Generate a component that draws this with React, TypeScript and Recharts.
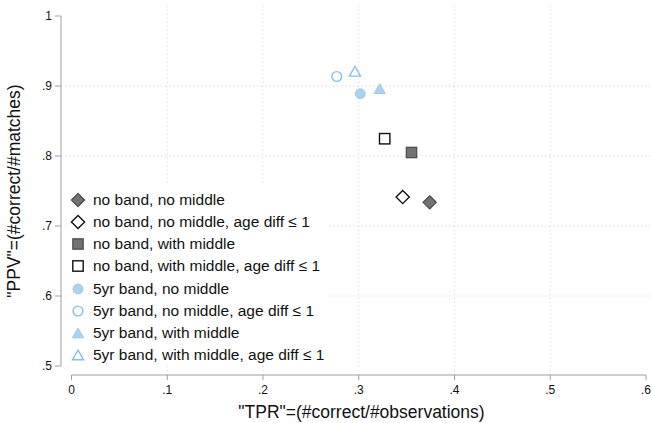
import React from 'react';
import { ScatterChart, Scatter, XAxis, YAxis, ReferenceLine, Legend } from 'recharts';

const seriesNames = [
  'no band, no middle',
  'no band, no middle, age diff ≤ 1',
  'no band, with middle',
  'no band, with middle, age diff ≤ 1',
  '5yr band, no middle',
  '5yr band, no middle, age diff ≤ 1',
  '5yr band, with middle',
  '5yr band, with middle, age diff ≤ 1',
];
const markerKinds = ['diamond', 'diamond', 'square', 'square', 'circle', 'circle', 'triangle', 'triangle'];
const markerFilled = [true, false, true, false, true, false, true, false];
const tprValues = [0.3741, 0.3459, 0.3551, 0.3271, 0.3016, 0.277, 0.3219, 0.2961];
const ppvValues = [0.7338, 0.7414, 0.805, 0.8247, 0.889, 0.9136, 0.8962, 0.921];

const xTicks = [0, 0.1, 0.2, 0.3, 0.4, 0.5, 0.6];
const yTicks = [0.5, 0.6, 0.7, 0.8, 0.9, 1];
const xGrid = [0.1, 0.2, 0.3, 0.4, 0.5];
const yGrid = [0.6, 0.7, 0.8, 0.9];

const FONT = '"Liberation Sans", Arial, Helvetica, sans-serif';
const AXIS_COLOR = '#a0a0a0';
const GRID_COLOR = '#d4d4d4';

const fmt = (v: number) => {
  if (v === 0) return '0';
  if (v === 1) return '1';
  return String(Math.round(v * 10) / 10).replace(/^0/, '');
};

function markerStyle(i: number) {
  const isBlue = markerKinds[i] === 'circle' || markerKinds[i] === 'triangle';
  if (isBlue) {
    return markerFilled[i]
      ? { fill: '#acd2ef', stroke: '#9ac7ea', strokeWidth: 1 }
      : { fill: 'none', stroke: '#85c0ea', strokeWidth: 1.4 };
  }
  return markerFilled[i]
    ? { fill: '#727272', stroke: '#4a4a4a', strokeWidth: 1.2 }
    : { fill: '#ffffff', stroke: '#111111', strokeWidth: 1.4 };
}

function Marker({ i, cx, cy }: { i: number; cx: number; cy: number }) {
  const st = markerStyle(i);
  const kind = markerKinds[i];
  if (kind === 'diamond') {
    const r = 6.6;
    return <path d={`M${cx},${cy - r}L${cx + r},${cy}L${cx},${cy + r}L${cx - r},${cy}Z`} {...st} />;
  }
  if (kind === 'square') {
    const h = 5.2;
    return <rect x={cx - h} y={cy - h} width={2 * h} height={2 * h} {...st} />;
  }
  if (kind === 'circle') {
    return <circle cx={cx} cy={cy} r={4.9} {...st} />;
  }
  const w = 5.6;
  const h = 4.8;
  return <path d={`M${cx},${cy - h}L${cx + w},${cy + h}L${cx - w},${cy + h}Z`} {...st} />;
}

const seriesData = seriesNames.map((name, i) => [{ tpr: tprValues[i], ppv: ppvValues[i], name }]);

function LegendContent() {
  return (
    <div style={{ background: '#ffffff', fontFamily: FONT, fontSize: 15.5, color: '#111', paddingTop: 4, paddingRight: 4 }}>
      {seriesNames.map((name, i) => (
        <div key={name} style={{ display: 'flex', alignItems: 'center', height: 22.15, whiteSpace: 'nowrap' }}>
          <svg width={20} height={18} style={{ flex: 'none' }}>
            <Marker i={i} cx={10} cy={9} />
          </svg>
          <span style={{ marginLeft: 5 }}>{name}</span>
        </div>
      ))}
    </div>
  );
}

export default function App() {
  return (
    <div style={{ position: 'absolute', left: 0, top: 0, width: 652, height: 423, background: '#fff' }}>
      <ScatterChart width={652} height={423} margin={{ top: 5, right: 0, bottom: 0, left: 0 }}>
        {xGrid.map((v) => (
          <ReferenceLine key={'gx' + v} x={v} stroke={GRID_COLOR} strokeDasharray="1 3" strokeWidth={1} />
        ))}
        {yGrid.map((v) => (
          <ReferenceLine key={'gy' + v} y={v} stroke={GRID_COLOR} strokeDasharray="1 3" strokeWidth={1} />
        ))}
        <XAxis
          type="number"
          dataKey="tpr"
          domain={[0, 0.6]}
          ticks={xTicks}
          tickFormatter={fmt}
          padding={{ left: 10.5, right: 6 }}
          height={48}
          tickSize={5}
          tickMargin={5}
          axisLine={{ stroke: AXIS_COLOR, strokeDasharray: '0 10.5 574.5 1000' }}
          tickLine={{ stroke: AXIS_COLOR }}
          tick={{ fill: '#111', fontSize: 12, fontFamily: FONT }}
          label={{
            value: '"TPR"=(#correct/#observations)',
            position: 'insideBottom',
            offset: 5,
            dx: 5,
            style: { fill: '#111', fontSize: 17.5, fontFamily: FONT },
          }}
          allowDataOverflow
        />
        <YAxis
          type="number"
          dataKey="ppv"
          domain={[0.5, 1]}
          ticks={yTicks}
          tickFormatter={fmt}
          padding={{ top: 11, bottom: 9 }}
          width={61}
          tickSize={6}
          tickMargin={3}
          axisLine={{ stroke: AXIS_COLOR, strokeDasharray: '0 11 350 1000' }}
          tickLine={{ stroke: AXIS_COLOR }}
          tick={{ fill: '#111', fontSize: 12, fontFamily: FONT }}
          label={{
            value: '"PPV"=(#correct/#matches)',
            angle: -90,
            position: 'insideLeft',
            offset: 0,
            dx: 14,
            dy: 1,
            style: { fill: '#111', fontSize: 17.5, fontFamily: FONT, textAnchor: 'middle' },
          }}
          allowDataOverflow
        />
        {seriesData.map((d, i) => (
          <Scatter
            key={seriesNames[i]}
            name={seriesNames[i]}
            data={d}
            isAnimationActive={false}
            shape={(p: any) => <Marker i={i} cx={p.cx} cy={p.cy} />}
          />
        ))}
        <Legend
          layout="vertical"
          align="center"
          verticalAlign="middle"
          content={() => <LegendContent />}
          wrapperStyle={{ position: 'absolute', left: 68, top: 185, width: 'auto', height: 'auto' }}
        />
      </ScatterChart>
    </div>
  );
}
